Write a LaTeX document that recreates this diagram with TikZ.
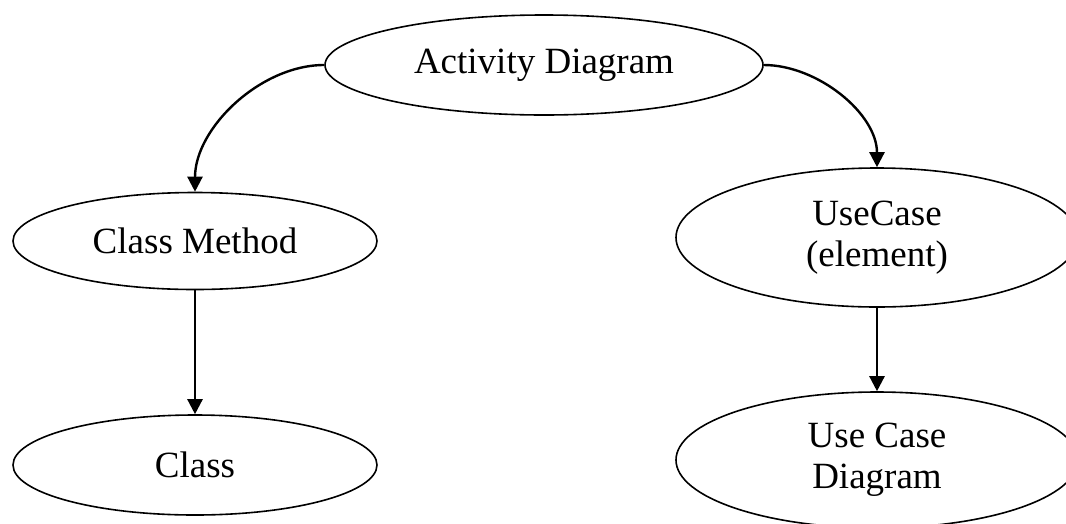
\documentclass[tikz,border=0pt]{standalone}
\usepackage{fontspec}
\setmainfont{Liberation Serif}
\usetikzlibrary{shapes.geometric,arrows.meta}
\begin{document}
\begin{tikzpicture}[x=1pt,y=-1pt,
  oval/.style={draw,ellipse,line width=1.6pt,inner sep=0pt,align=center,
    font=\fontsize{37}{41}\selectfont},
  link/.style={line width=2.4pt,-{Triangle[length=15pt,width=15pt]}}]
\useasboundingbox (0,0) rectangle (1066,523);
\node[oval,minimum width=438pt,minimum height=100pt] (act) at (544,65) {Activity Diagram};
\node[oval,minimum width=364pt,minimum height=97pt] (cm) at (195,241) {Class Method};
\node[oval,minimum width=364pt,minimum height=100pt] (cls) at (195,465) {Class};
\node[oval,minimum width=402pt,minimum height=139pt] (uc) at (877,237.5) {UseCase\\(element)};
\node[oval,minimum width=402pt,minimum height=136pt] (ucd) at (877,460) {Use Case\\Diagram};
\draw[link] (act.west) to[out=180,in=90,looseness=0.9] (cm.north);
\draw[link] (act.east) to[out=0,in=90,looseness=0.9] (uc.north);
\draw[link] (cm.south) -- (cls.north);
\draw[link] (uc.south) -- (ucd.north);
\end{tikzpicture}
\end{document}
